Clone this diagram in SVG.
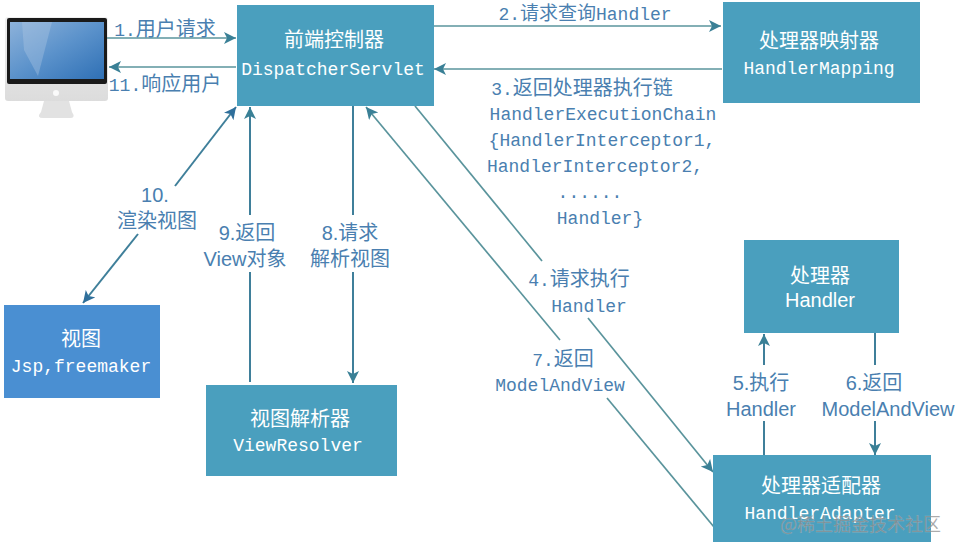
<svg xmlns="http://www.w3.org/2000/svg" width="958" height="552" viewBox="0 0 958 552">
<style>
.box{fill:#4a9fbe}
.blue{fill:#4a8fd2}
.t{font-family:"Noto Sans CJK SC","Liberation Sans",sans-serif;font-size:20px;text-anchor:middle}
.m{font-family:"Liberation Mono","Noto Sans CJK SC",monospace;font-size:18px;text-anchor:middle}
.z{font-family:"Noto Sans CJK SC",sans-serif;font-size:20px}
.w{fill:#fff}
.l{fill:#4a7fb0}
.s{font-family:"Liberation Sans","Noto Sans CJK SC",sans-serif;font-size:20px;text-anchor:middle}
.c{fill:none;stroke:#5a949c;stroke-width:1.7}
.d{fill:none;stroke:#3f7f9a;stroke-width:2}
</style>
<defs>
<marker id="a" markerUnits="userSpaceOnUse" markerWidth="14" markerHeight="14" refX="12" refY="6" orient="auto"><path d="M0 0L12 6L0 12L3 6Z" fill="#3a8096"/></marker>
<marker id="b" markerUnits="userSpaceOnUse" markerWidth="14" markerHeight="14" refX="12" refY="6" orient="auto"><path d="M0 0L12 6L0 12L3 6Z" fill="#2f6f9b"/></marker>
<linearGradient id="scr" x1="0" y1="0" x2="1" y2="1"><stop offset="0" stop-color="#8db2da"/><stop offset=".5" stop-color="#5b92cb"/><stop offset="1" stop-color="#2f70b5"/></linearGradient>
<linearGradient id="sil" x1="0" y1="0" x2="0" y2="1"><stop offset="0" stop-color="#f0f0f0"/><stop offset="1" stop-color="#dcdcdc"/></linearGradient>
</defs>
<rect width="958" height="552" fill="#fff"/>
<g id="computer">
<rect x="5" y="17" width="103" height="84" rx="3" fill="url(#sil)"/>
<rect x="7" y="18" width="100" height="66" rx="2" fill="#1a1a1a"/>
<rect x="10" y="22" width="94" height="57" fill="url(#scr)"/>
<path d="M22 22L52 22L38 76L24 50Z" fill="#b4cce6" opacity=".35"/>
<circle cx="56" cy="93" r="3" fill="#fafafa"/>
<path d="M44 101H69L72 112Q76 118 70 118H43Q36 118 41 112Z" fill="#e2e2e2"/>
</g>
<g id="connectors">
<path class="c" d="M107 38H236" marker-end="url(#a)"/>
<path class="c" d="M236 67H109" marker-end="url(#a)"/>
<path class="c" d="M434 26H721" marker-end="url(#a)"/>
<path class="c" d="M722 69H434" marker-end="url(#a)"/>
<path class="d" d="M175 186L236 107" marker-end="url(#b)"/>
<path class="d" d="M138 234L83 303" marker-end="url(#b)"/>
<path class="d" d="M250 215V107" marker-end="url(#a)"/>
<path class="d" d="M250 272V382"/>
<path class="d" d="M353 106V215"/>
<path class="d" d="M353 272V383" marker-end="url(#a)"/>
<path class="c" d="M415 106L542 261"/>
<path class="c" d="M588 318L713 472" marker-end="url(#a)"/>
<path class="c" d="M560 340L366 107" marker-end="url(#a)"/>
<path class="c" d="M607 398L714 527"/>
<path class="d" d="M764 365V334" marker-end="url(#a)"/>
<path class="d" d="M764 421V455"/>
<path class="d" d="M875 333V365"/>
<path class="d" d="M875 421V455" marker-end="url(#a)"/>
</g>
<g id="node-dispatcher"><rect class="box" x="237" y="5" width="197" height="101"/>
<text class="t w" x="334" y="47">前端控制器</text><text class="m w" x="333" y="75">DispatcherServlet</text></g>
<g id="node-mapping"><rect class="box" x="723" y="2" width="197" height="101"/>
<text class="t w" x="819" y="48">处理器映射器</text><text class="m w" x="819" y="74">HandlerMapping</text></g>
<g id="node-handler"><rect class="box" x="744" y="240" width="155" height="93"/>
<text class="t w" x="820" y="283">处理器</text><text class="s w" x="820" y="307">Handler</text></g>
<g id="node-adapter"><rect class="box" x="713" y="455" width="218" height="87"/>
<text class="t w" x="821" y="493">处理器适配器</text><text class="m w" x="820" y="519">HandlerAdapter</text></g>
<g id="node-view"><rect class="blue" x="4" y="305" width="156" height="93"/>
<text class="t w" x="81" y="346">视图</text><text class="m w" x="81" y="372">Jsp,freemaker</text></g>
<g id="node-resolver"><rect class="box" x="206" y="385" width="191" height="91"/>
<text class="t w" x="300" y="426">视图解析器</text><text class="m w" x="298" y="451">ViewResolver</text></g>
<g id="labels">
<text class="m l" x="165" y="36">1.<tspan class="z">用户请求</tspan></text>
<text class="m l" x="165" y="91">11.<tspan class="z">响应用户</tspan></text>
<text class="m l" x="585" y="20">2.<tspan class="z" style="font-size:19px">请求查询</tspan>Handler</text>
<text class="m l" x="582" y="95">3.<tspan class="z">返回处理器执行链</tspan></text>
<text class="m l" x="603" y="120">HandlerExecutionChain</text>
<text class="m l" x="602" y="146">{HandlerInterceptor1,</text>
<text class="m l" x="595" y="172">HandlerInterceptor2,</text>
<text class="m l" x="590" y="198">......</text>
<text class="m l" x="600" y="224">Handler}</text>
<text class="s l" x="155" y="202">10.</text>
<text class="t l" x="157" y="228">渲染视图</text>
<text class="s l" x="247" y="240">9.<tspan class="z">返回</tspan></text>
<text class="s l" x="245" y="266">View<tspan class="z">对象</tspan></text>
<text class="s l" x="350" y="240">8.<tspan class="z">请求</tspan></text>
<text class="s l" x="350" y="266">解析视图</text>
<text class="m l" x="579" y="286">4.<tspan class="z">请求执行</tspan></text>
<text class="m l" x="589" y="312">Handler</text>
<text class="m l" x="563" y="366">7.<tspan class="z">返回</tspan></text>
<text class="m l" x="560" y="391">ModelAndView</text>
<text class="s l" x="761" y="390">5.<tspan class="z">执行</tspan></text>
<text class="s l" x="761" y="416">Handler</text>
<text class="s l" x="874" y="390">6.<tspan class="z">返回</tspan></text>
<text class="s l" x="888" y="416">ModelAndView</text>
</g>
<text id="watermark" x="780" y="531" font-family="Noto Sans CJK SC,Liberation Sans,sans-serif" font-size="18" fill="#8a8a8a" fill-opacity=".75" stroke="#fff" stroke-opacity=".25" stroke-width=".4">@稀土掘金技术社区</text>
</svg>
